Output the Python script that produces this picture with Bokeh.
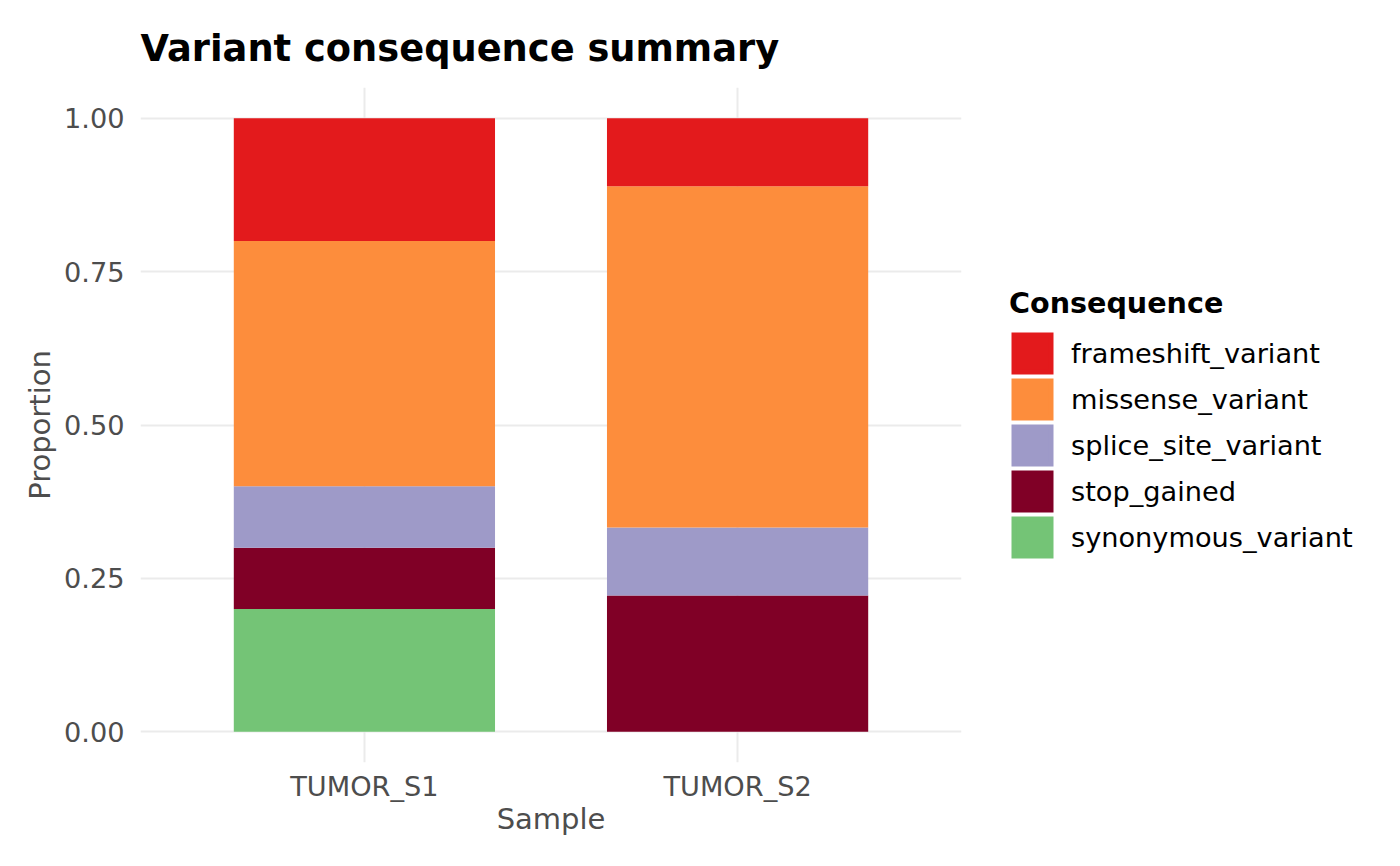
from bokeh.plotting import figure
from bokeh.layouts import row
from bokeh.models import ColumnDataSource, Range1d, FixedTicker, Legend, LegendItem
from bokeh.embed import file_html
from bokeh.resources import INLINE

# data
samples = ["TUMOR_S1", "TUMOR_S2"]
consequences = ["frameshift_variant", "missense_variant", "splice_site_variant",
                "stop_gained", "synonymous_variant"]
frameshift_variant = [0.2, 0.111]
missense_variant = [0.4, 0.556]
splice_site_variant = [0.1, 0.111]
stop_gained = [0.1, 0.222]
synonymous_variant = [0.2, 0.0]
colors = ["#E31A1C", "#FD8D3C", "#9E9AC8", "#800026", "#74C476"]
y_ticks = [0.0, 0.25, 0.5, 0.75, 1.0]

pos = list(range(1, len(samples) + 1))
source = ColumnDataSource(dict(
    x=pos,
    frameshift_variant=frameshift_variant,
    missense_variant=missense_variant,
    splice_site_variant=splice_site_variant,
    stop_gained=stop_gained,
    synonymous_variant=synonymous_variant,
))

FONT = "DejaVu Sans"
GREY = "#4D4D4D"
W, H = 1384, 850
PLOT_W = 970

p = figure(width=PLOT_W, height=H, output_backend="svg", toolbar_location=None,
           x_range=Range1d(0.4, 2.6), y_range=Range1d(-0.05, 1.05),
           min_border_left=140, min_border_right=PLOT_W - 961,
           min_border_top=87, min_border_bottom=88,
           title="Variant consequence summary")
p.outline_line_color = None
p.background_fill_color = "white"

# stack from the bottom: last level first, as ggplot does
stack_order = consequences[::-1]
stack_colors = colors[::-1]
p.vbar_stack(stack_order, x="x", width=0.7, source=source,
             color=stack_colors, line_color=None)

p.title.text_font = FONT
p.title.text_font_size = "36.8px"
p.title.text_font_style = "bold"
p.title.text_color = "black"
p.title.align = "left"
p.title.standoff = 36

for ax in (p.xaxis, p.yaxis):
    ax.axis_line_color = None
    ax.major_tick_line_color = None
    ax.minor_tick_line_color = None
    ax.major_tick_out = 0
    ax.major_tick_in = 0
    ax.major_label_text_font = FONT
    ax.major_label_text_font_size = "27.2px"
    ax.major_label_text_color = GREY
    ax.axis_label_text_font = FONT
    ax.axis_label_text_font_size = "29px"
    ax.axis_label_text_font_style = "normal"
    ax.axis_label_text_color = GREY

p.xaxis.ticker = FixedTicker(ticks=pos)
p.xaxis.major_label_overrides = {i: s for i, s in zip(pos, samples)}
p.xaxis.major_label_standoff = 8
p.xaxis.axis_label = "Sample"
p.xaxis.axis_label_standoff = -3

p.yaxis.ticker = FixedTicker(ticks=y_ticks)
p.yaxis.major_label_overrides = {t: f"{t:.2f}" for t in y_ticks}
p.yaxis.major_label_standoff = 16
p.yaxis.axis_label = "Proportion"
p.yaxis.axis_label_standoff = 4

p.xgrid.ticker = FixedTicker(ticks=pos)
p.ygrid.ticker = FixedTicker(ticks=y_ticks)
for g in (p.xgrid, p.ygrid):
    g.grid_line_color = "#EBEBEB"
    g.grid_line_width = 2
    g.minor_grid_line_color = None

# legend lives in its own axis-less figure to the right of the panel
leg = figure(width=W - PLOT_W, height=H, output_backend="svg", toolbar_location=None,
             x_axis_location=None, y_axis_location=None,
             x_range=Range1d(100, 101), y_range=Range1d(100, 101),
             min_border=0, outline_line_color=None)
leg.xgrid.visible = False
leg.ygrid.visible = False
# hidden copies of the bars, only used for their legend swatches
# (bar swatches are inset 10%, a line of the same colour makes them fill 42px)
proxies = leg.vbar_stack(stack_order, x="x", width=0.7, source=source,
                         color=stack_colors, line_width=5.2, line_join="miter")
for r in proxies:
    r.visible = False
by_name = dict(zip(stack_order, proxies))

legend = Legend(
    items=[LegendItem(label=c, renderers=[by_name[c]]) for c in consequences],
    location=(39, 202),
    title="Consequence",
    title_text_font=FONT, title_text_font_size="28.6px", title_text_font_style="bold",
    title_text_color="black", title_standoff=10,
    label_text_font=FONT, label_text_font_size="27.2px", label_text_color="black",
    glyph_width=46, glyph_height=46, label_standoff=16, spacing=0,
    padding=0, margin=0, border_line_color=None, background_fill_alpha=0,
)
leg.add_layout(legend, "center")

layout = row(p, leg, spacing=0)
open("out.html", "w").write(file_html(layout, INLINE))
